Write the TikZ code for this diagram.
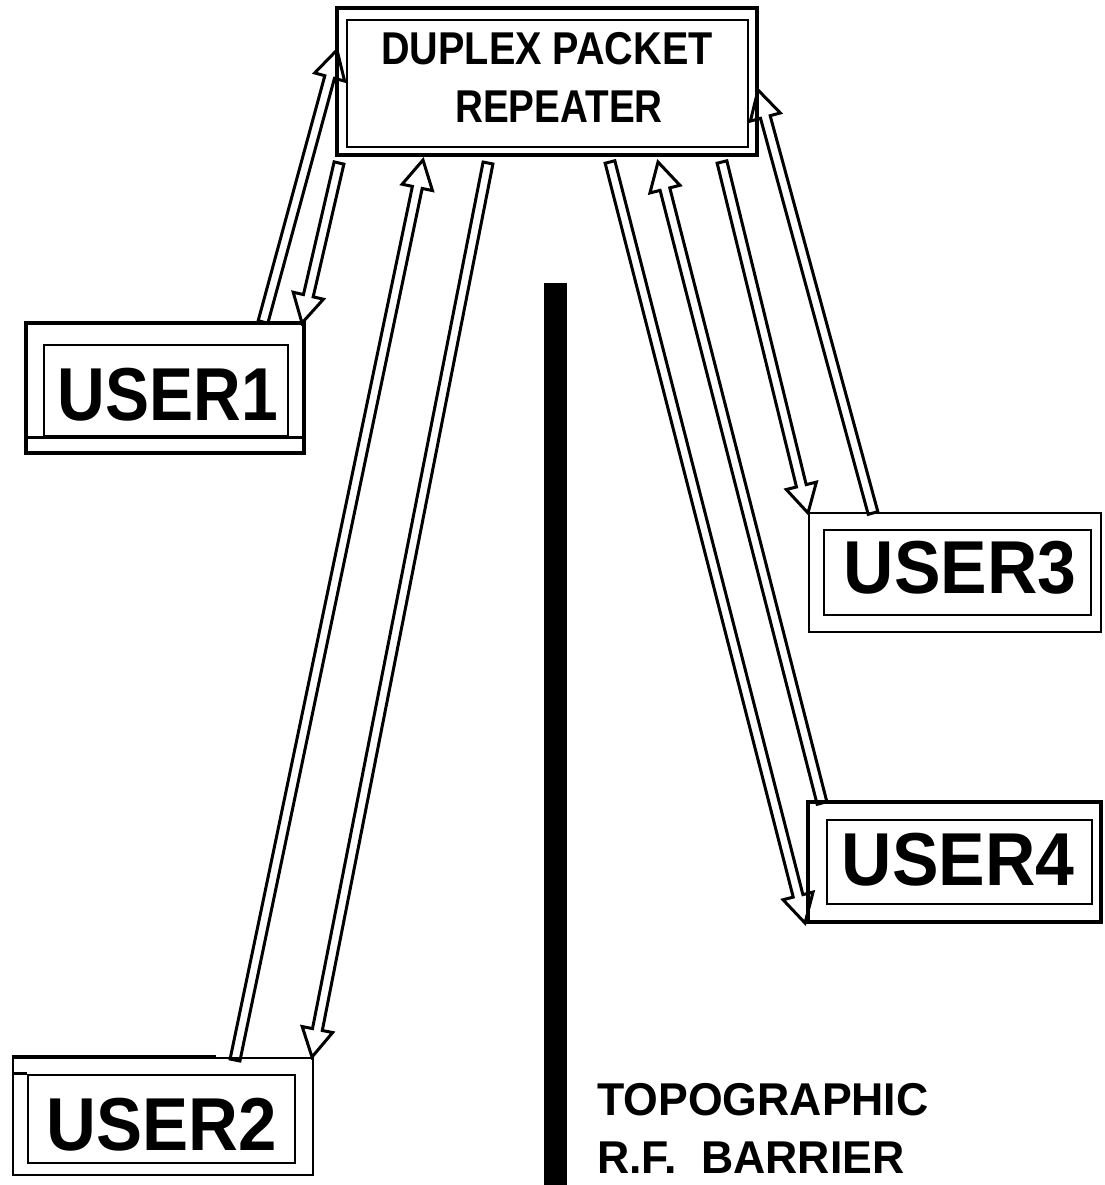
\documentclass[tikz,border=0pt]{standalone}
\usepackage{fontspec}
\setmainfont{Liberation Sans}
\usetikzlibrary{calc}
\newcommand\hollowarrow[2]{%
  \draw[arrowline]
    ($(#1)!\shw!90:(#2)$)
    -- ($(#2)!\hdl!(#1)!\shw!90:(#2)$)
    -- ($(#2)!\hdl!(#1)!\hdw!90:(#2)$)
    -- (#2)
    -- ($(#2)!\hdl!(#1)!\hdw!-90:(#2)$)
    -- ($(#2)!\hdl!(#1)!\shw!-90:(#2)$)
    -- ($(#1)!\shw!-90:(#2)$)
    -- cycle;}
\def\shw{5pt}
\def\hdl{28pt}
\def\hdw{15.5pt}
\begin{document}
\begin{tikzpicture}[x=1pt,y=-1pt,
  boxline/.style={draw, line width=3.4pt, inner sep=0pt},
  thinbox/.style={draw, line width=2.8pt, inner sep=0pt},
  arrowline/.style={line width=3pt, line join=miter},
  replbl/.style={inner sep=0pt, anchor=base, font=\fontsize{46}{50}\selectfont\bfseries},
  userlbl/.style={inner sep=0pt, anchor=base, font=\fontsize{75}{80}\selectfont\bfseries},
  barlbl/.style={inner sep=0pt, anchor=base west, font=\fontsize{46}{50}\selectfont\bfseries}]
\useasboundingbox (0,0) rectangle (1104,1185);
\fill[white] (0,0) rectangle (1104,1185);

% repeater
\node[boxline, minimum width=420pt, minimum height=147pt] (rep) at (547,81.5) {};
\node[thinbox, minimum width=401pt, minimum height=127pt] (repin) at (547.5,83.5) {};
\node[replbl] (rt1) at (547,65) {\scalebox{0.86}[1]{DUPLEX PACKET}};
\node[replbl] (rt2) at (559,123) {\scalebox{0.84}[1]{REPEATER}};

% user 1
\node[boxline, minimum width=278pt, minimum height=130pt] (u1) at (165,388) {};
\node[thinbox, minimum width=244pt, minimum height=91pt] (u1in) at (166,390.5) {};
\draw[line width=2.8pt] (u1.west |- u1in.south) -- (u1.east |- u1in.south);
\node[userlbl] (u1t) at (168,420) {\scalebox{0.88}[1]{USER1}};

% user 2
\node[thinbox, minimum width=300pt, minimum height=117pt] (u2) at (163,1116.5) {};
\draw[line width=4pt] (u2.north west) -- ++(204,0);
\node[thinbox, minimum width=267pt, minimum height=88pt] (u2in) at (161.5,1119) {};
\draw[line width=2.8pt] (u2.west |- u2in.north) -- (u2in.north west);
\node[userlbl] (u2t) at (162,1150) {\scalebox{0.92}[1]{USER2}};

% user 3
\node[thinbox, minimum width=292pt, minimum height=119pt] (u3) at (955,572.5) {};
\node[thinbox, minimum width=267pt, minimum height=85pt] (u3in) at (957.5,572.5) {};
\node[userlbl] (u3t) at (960,593) {\scalebox{0.93}[1]{USER3}};

% user 4
\node[boxline, minimum width=293pt, minimum height=120pt] (u4) at (954.5,862) {};
\node[thinbox, minimum width=265pt, minimum height=84pt] (u4in) at (959.5,862) {};
\node[userlbl] (u4t) at (958,885) {\scalebox{0.93}[1]{USER4}};

% barrier
\fill (544,283) rectangle (567,1185);
\node[barlbl] (b1) at (597,1115) {\scalebox{0.97}[1]{TOPOGRAPHIC}};
\node[barlbl] (b2) at (597,1173) {\scalebox{0.97}[1]{R.F.\ \ BARRIER}};

% arrow end points
\coordinate (a1s) at (263,322);  \coordinate (a1e) at (337,50);
\coordinate (a2s) at (339,163);  \coordinate (a2e) at (302,323);
\coordinate (a3s) at (235,1060); \coordinate (a3e) at (423,160);
\coordinate (a4s) at (488,163);  \coordinate (a4e) at (312,1057);
\coordinate (a5s) at (610,162);  \coordinate (a5e) at (805,923);
\coordinate (a6s) at (822,803);  \coordinate (a6e) at (658,162);
\coordinate (a7s) at (722,162);  \coordinate (a7e) at (808,513);
\coordinate (a8s) at (873,513);  \coordinate (a8e) at (758,90);

\hollowarrow{a1s}{a1e}
\hollowarrow{a2s}{a2e}
\hollowarrow{a3s}{a3e}
\hollowarrow{a4s}{a4e}
\hollowarrow{a5s}{a5e}
\hollowarrow{a6s}{a6e}
\hollowarrow{a7s}{a7e}
\hollowarrow{a8s}{a8e}
\end{tikzpicture}
\end{document}
